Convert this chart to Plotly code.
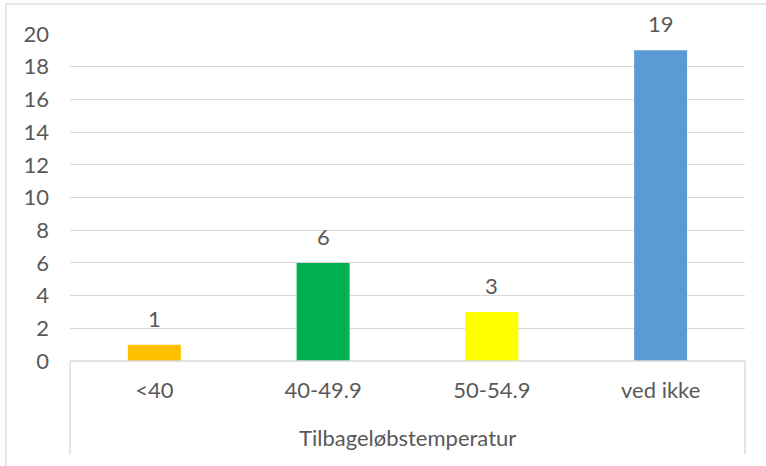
import plotly.graph_objects as go

categories = ["<40", "40-49.9", "50-54.9", "ved ikke"]
values = [1, 6, 3, 19]
colors = ["#FFC000", "#00B050", "#FFFF00", "#5B9BD5"]
y_ticks = list(range(0, 21, 2))
axis_title = "Tilbageløbstemperatur"

TXT = "#595959"
GRID = "#D9D9D9"
FONT = "Lato"
FS = 22

fig = go.Figure(go.Bar(x=categories, y=values, marker_color=colors, marker_line_width=0))

for c, v in zip(categories, values):
    fig.add_annotation(x=c, y=v, text=str(v), showarrow=False, yanchor="bottom",
                       yshift=11, font=dict(family=FONT, size=FS, color=TXT))

fig.add_annotation(xref="paper", yref="paper", x=0.5, y=-0.235, text=axis_title,
                   showarrow=False, yanchor="middle", xanchor="center",
                   font=dict(family=FONT, size=FS, color=TXT))

line = dict(color=GRID, width=1.3)
# category frame lines
fig.add_shape(type="line", xref="paper", yref="paper", x0=0, x1=0, y0=0, y1=-0.285, line=line)
fig.add_shape(type="line", xref="paper", yref="paper", x0=1, x1=1, y0=0, y1=-0.285, line=line)
fig.add_shape(type="line", xref="paper", yref="paper", x0=0, x1=1, y0=0, y1=0, line=line)
# chart border (top / left)
fig.add_shape(type="line", xref="paper", yref="paper", x0=-0.095, x1=1.05, y0=1.092, y1=1.092, line=line)
fig.add_shape(type="line", xref="paper", yref="paper", x0=-0.095, x1=-0.095, y0=1.092, y1=-0.4, line=line)

fig.update_layout(
    width=766, height=466,
    margin=dict(l=70, r=21, t=34, b=105),
    plot_bgcolor="white", paper_bgcolor="white",
    bargap=0.686,
    showlegend=False,
    hovermode=False,
    font=dict(family=FONT, size=FS, color=TXT),
    xaxis=dict(showgrid=False, showline=False, zeroline=False, ticks="",
               ticklabelstandoff=14, tickfont=dict(family=FONT, size=FS, color=TXT)),
    yaxis=dict(range=[0, 20], tickvals=y_ticks, showgrid=True, gridcolor=GRID, gridwidth=1.3,
               zeroline=False, showline=False, ticks="", ticklabelstandoff=20,
               tickfont=dict(family=FONT, size=FS, color=TXT)),
)

fig.write_html("out.html", config={"displayModeBar": False},
               post_script="document.body.style.margin='0';")
